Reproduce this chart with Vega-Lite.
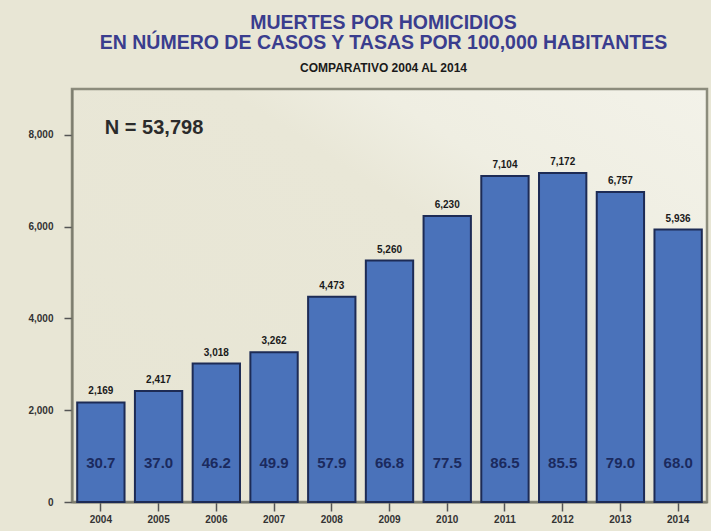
{
  "$schema": "https://vega.github.io/schema/vega-lite/v6.json",
  "width": 635,
  "height": 413,
  "autosize": "none",
  "padding": {"left": 72, "top": 89, "right": 4, "bottom": 29},
  "background": "#e8e6d5",
  "title": {
    "text": ["MUERTES POR HOMICIDIOS", "EN NÚMERO DE CASOS Y TASAS POR 100,000 HABITANTES"],
    "subtitle": "COMPARATIVO 2004 AL 2014",
    "anchor": "middle",
    "dx": -6,
    "offset": 14,
    "font": "Liberation Sans",
    "fontSize": 19.5,
    "fontWeight": "bold",
    "color": "#3a3d8e",
    "lineHeight": 20,
    "subtitleFont": "Liberation Sans",
    "subtitleFontSize": 12,
    "subtitleFontWeight": "bold",
    "subtitleColor": "#1a1a1a",
    "subtitlePadding": 10
  },
  "config": {
    "view": {
      "fill": {"gradient": "linear", "x1": 0, "y1": 1, "x2": 1, "y2": 0, "stops": [
        {"offset": 0, "color": "#e7e5d4"},
        {"offset": 0.62, "color": "#e9e7d7"},
        {"offset": 0.74, "color": "#efeee2"},
        {"offset": 1, "color": "#f3f2e9"}
      ]},
      "stroke": "#8c8c7c", "strokeWidth": 2.5
    },
    "axis": {"labelFont": "Liberation Sans", "labelFontWeight": "bold", "labelFontSize": 10, "labelColor": "#333333", "domainColor": "#7d7d6e", "domainWidth": 2, "tickColor": "#555555", "tickWidth": 1.5, "grid": false, "title": null}
  },
  "data": {
    "values": [
      {"year": "2004", "cases": 2169, "rate": "30.7"},
      {"year": "2005", "cases": 2417, "rate": "37.0"},
      {"year": "2006", "cases": 3018, "rate": "46.2"},
      {"year": "2007", "cases": 3262, "rate": "49.9"},
      {"year": "2008", "cases": 4473, "rate": "57.9"},
      {"year": "2009", "cases": 5260, "rate": "66.8"},
      {"year": "2010", "cases": 6230, "rate": "77.5"},
      {"year": "2011", "cases": 7104, "rate": "86.5"},
      {"year": "2012", "cases": 7172, "rate": "85.5"},
      {"year": "2013", "cases": 6757, "rate": "79.0"},
      {"year": "2014", "cases": 5936, "rate": "68.0"}
    ]
  },
  "encoding": {
    "x": {"field": "year", "type": "ordinal", "scale": {"paddingInner": 0.18, "paddingOuter": 0.09},
      "axis": {"labelAngle": 0, "tickSize": 9, "labelPadding": 3, "domain": true}}
  },
  "layer": [
    {
      "mark": {"type": "bar", "fill": "#4a72ba", "stroke": "#1d2b55", "strokeWidth": 2},
      "encoding": {
        "y": {"field": "cases", "type": "quantitative", "scale": {"domain": [0, 9000]},
          "axis": {"values": [0, 2000, 4000, 6000, 8000], "format": ",d", "tickSize": 8, "labelPadding": 11}}
      }
    },
    {
      "mark": {"type": "text", "font": "Liberation Sans", "fontWeight": "bold", "fontSize": 10, "color": "#1a1a1a", "dy": -11},
      "encoding": {
        "y": {"field": "cases", "type": "quantitative"},
        "text": {"field": "cases", "type": "quantitative", "format": ",d"}
      }
    },
    {
      "mark": {"type": "text", "font": "Liberation Sans", "fontWeight": "bold", "fontSize": 15, "color": "#1b2a5e"},
      "encoding": {
        "y": {"datum": 850},
        "text": {"field": "rate"}
      }
    },
    {
      "data": {"values": [{"label": "N = 53,798", "year": "2004", "pos": 8150}]},
      "mark": {"type": "text", "font": "Liberation Sans", "fontWeight": "bold", "fontSize": 20, "color": "#2b2b2b", "align": "left", "dx": 4},
      "encoding": {
        "y": {"field": "pos", "type": "quantitative"},
        "text": {"field": "label"}
      }
    }
  ]
}
